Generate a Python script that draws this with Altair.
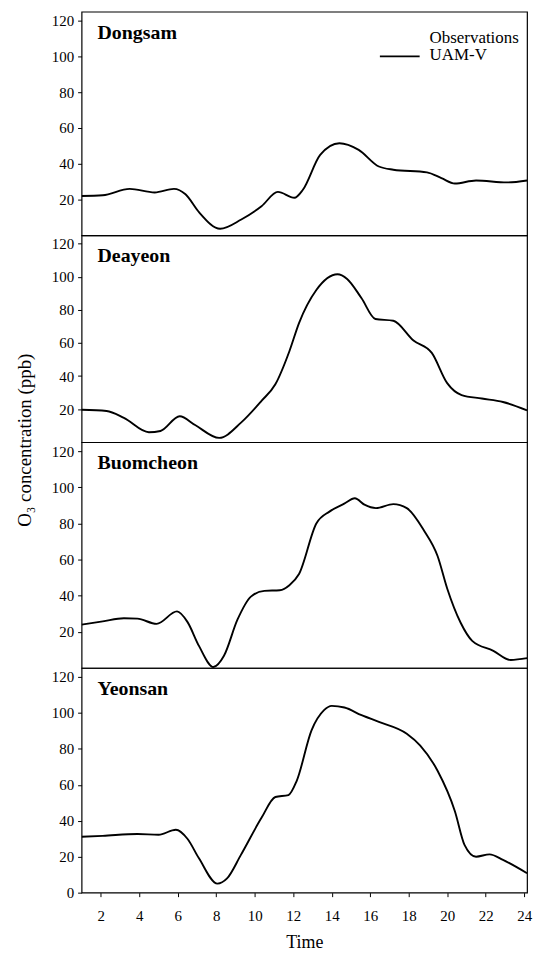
import altair as alt
import pandas as pd

FONT = "Liberation Serif"

stations = ["Dongsam", "Deayeon", "Buomcheon", "Yeonsan"]

dongsam_t = [1, 2.1, 3.5, 4.8, 5.8, 6.4, 7.1, 8.2, 9.3, 10.35, 11.2, 12.06, 12.5, 13.4, 14.4, 15.4, 16.45, 17.2, 18.95, 19.7, 20.4, 21.5, 23.1, 24.15]
dongsam_v = [22, 22.4, 26, 24, 26, 23, 13, 3.7, 8.9, 16.3, 24.3, 21, 25.5, 45, 51.5, 47.8, 38.5, 36.7, 35.2, 32, 29, 30.7, 29.6, 30.7]

deayeon_t = [1, 2.3, 3.2, 4.5, 5.1, 6.1, 6.9, 8.15, 9.3, 10.35, 11.07, 11.8, 12.3, 13.2, 14.3, 14.8, 15.55, 16.27, 17.2, 18.25, 19.2, 20.0, 20.75, 21.8, 22.9, 24.15]
deayeon_v = [19.6, 18.9, 14.7, 6.0, 6.8, 15.7, 10.4, 2.6, 12, 25, 35, 55, 72, 92, 101.5, 98.7, 87, 74.5, 73.4, 61.5, 54, 35.7, 28.5, 26.4, 24.3, 19.3]

buomcheon_t = [1, 2.1, 3.2, 3.9, 4.9, 5.96, 6.5, 7.1, 7.85, 8.4, 9.1, 9.8, 10.5, 11.3, 11.8, 12.3, 13.2, 13.9, 14.65, 15.2, 15.7, 16.3, 17.2, 17.9, 18.8, 19.5, 20.0, 20.7, 21.3, 22.4, 23.3, 24.15]
buomcheon_v = [24, 25.8, 27.5, 27.3, 24.4, 31.3, 25.5, 12.2, 0.5, 6.7, 26.7, 39.5, 42.7, 43, 45.8, 52, 80, 86.7, 91, 94, 90.4, 88.5, 90.7, 88.5, 76, 62, 44, 25, 15, 9.5, 4.4, 5.4]

yeonsan_t = [1, 2.1, 3.9, 5.0, 5.9, 6.5, 7.1, 8.06, 8.56, 9.28, 10.35, 11.07, 11.75, 12.18, 12.95, 13.6, 14.0, 14.66, 15.55, 16.45, 17.9, 18.6, 19.5, 20.4, 20.9, 21.5, 22.2, 22.9, 24.15]
yeonsan_v = [31.1, 31.6, 32.6, 32.2, 35, 30, 19.1, 5, 7.9, 21, 41.6, 53.2, 54.3, 62.2, 90.3, 101.5, 103.9, 103, 98.7, 95, 88.4, 81.8, 67.8, 45.3, 26.6, 20, 21.3, 18.2, 10.8]

x_ticks = [2, 4, 6, 8, 10, 12, 14, 16, 18, 20, 22, 24]
y_ticks_top = [20, 40, 60, 80, 100, 120]
y_ticks_bottom = [0, 20, 40, 60, 80, 100, 120]

legend_labels = ["Observations", "UAM-V"]
y_title = "O₃ concentration (ppb)"

series = [(dongsam_t, dongsam_v), (deayeon_t, deayeon_v), (buomcheon_t, buomcheon_v), (yeonsan_t, yeonsan_v)]
heights = [225, 208, 227, 226]
W = 448

panels = []
for i, (name, (t, v), h) in enumerate(zip(stations, series, heights)):
    last = i == len(stations) - 1
    df = pd.DataFrame({"Time": t, "O3": v})
    if last:
        xaxis = alt.Axis(values=x_ticks, title="Time", domain=False, grid=False,
                         tickSize=4, labelPadding=12, titlePadding=10, titleFontSize=18)
    else:
        xaxis = None
    x = alt.X("Time:Q", scale=alt.Scale(domain=[1, 24.15], nice=False, zero=False), axis=xaxis)
    y = alt.Y("O3:Q", scale=alt.Scale(domain=[0, 125], nice=False),
              axis=alt.Axis(values=y_ticks_bottom if last else y_ticks_top, title=None,
                            domain=False, grid=False, tickSize=4, labelPadding=4))
    line = alt.Chart(df).mark_line(color="black", strokeWidth=1.9, interpolate="monotone", clip=True).encode(x=x, y=y)
    label = alt.Chart(pd.DataFrame({"name": [name]})).mark_text(
        align="left", baseline="middle", font=FONT, fontSize=20, fontWeight="bold", color="black"
    ).encode(x=alt.value(16), y=alt.value(21), text="name:N")
    layers = [line, label]
    if i == 0:
        obs_txt = alt.Chart(pd.DataFrame({"t": [legend_labels[0]]})).mark_text(
            align="left", baseline="middle", font=FONT, fontSize=17, color="black"
        ).encode(x=alt.value(350), y=alt.value(26), text="t:N")
        uam_txt = alt.Chart(pd.DataFrame({"t": [legend_labels[1]]})).mark_text(
            align="left", baseline="middle", font=FONT, fontSize=17, color="black"
        ).encode(x=alt.value(350), y=alt.value(44), text="t:N")
        uam_rule = alt.Chart(pd.DataFrame({"t": [legend_labels[1]]})).mark_rule(
            color="black", strokeWidth=1.9
        ).encode(x=alt.value(300), x2=alt.value(340), y=alt.value(45))
        layers += [obs_txt, uam_txt, uam_rule]
    if i == 2:
        ytitle = alt.Chart(pd.DataFrame({"t": [y_title]})).mark_text(
            align="center", baseline="middle", angle=270, font=FONT, fontSize=19, color="black"
        ).encode(x=alt.value(-57), y=alt.value(-2), text="t:N")
        layers.append(ytitle)
    panels.append(alt.layer(*layers).properties(width=W, height=h))

chart = alt.vconcat(*panels, spacing=0, bounds="flush").properties(
    padding={"left": 7, "top": 0, "right": 1, "bottom": 0},
).configure_view(
    stroke="black", strokeWidth=1.2
).configure_axis(
    labelFont=FONT, titleFont=FONT, labelFontSize=15, titleFontSize=18,
    labelColor="black", titleColor="black", tickColor="black", titleFontWeight="normal"
)

chart.save("out.html", embed_options={"renderer": "svg", "actions": False})
